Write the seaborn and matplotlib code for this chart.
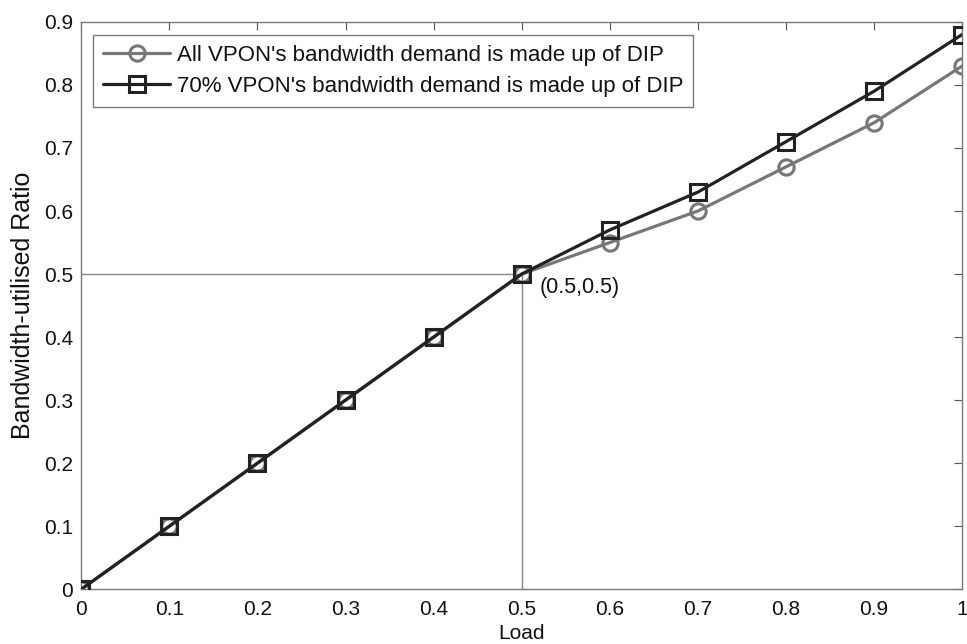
import matplotlib
matplotlib.use("Agg")
import matplotlib.pyplot as plt
import seaborn as sns
import pandas as pd

load = [0, 0.1, 0.2, 0.3, 0.4, 0.5, 0.6, 0.7, 0.8, 0.9, 1.0]
all_dip = [0, 0.1, 0.2, 0.3, 0.4, 0.5, 0.55, 0.60, 0.67, 0.74, 0.83]
dip70 = [0, 0.1, 0.2, 0.3, 0.4, 0.5, 0.57, 0.63, 0.71, 0.79, 0.88]
labels = ["All VPON's bandwidth demand is made up of DIP",
          "70% VPON's bandwidth demand is made up of DIP"]
xticks = [0, 0.1, 0.2, 0.3, 0.4, 0.5, 0.6, 0.7, 0.8, 0.9, 1]
yticks = [0, 0.1, 0.2, 0.3, 0.4, 0.5, 0.6, 0.7, 0.8, 0.9]

sns.set_style("white")
plt.rcParams['font.family'] = ['Liberation Sans', 'DejaVu Sans']
plt.rcParams['font.size'] = 15
plt.rcParams['text.color'] = '#111111'
plt.rcParams['axes.labelcolor'] = '#111111'
plt.rcParams['xtick.labelcolor'] = '#111111'
plt.rcParams['ytick.labelcolor'] = '#111111'

df = pd.DataFrame({"Load": load * 2,
                   "Ratio": all_dip + dip70,
                   "Series": [labels[0]] * len(load) + [labels[1]] * len(load)})

colors = ["#777777", "#222222"]
fig = plt.figure(figsize=(9.67, 6.44), dpi=100)
ax = fig.add_axes([0.084, 0.085, 0.911, 0.881])

ax.plot([0, 0.5], [0.5, 0.5], color="#888888", lw=1, zorder=1)
ax.plot([0.5, 0.5], [0, 0.5], color="#888888", lw=1, zorder=1)

sns.lineplot(data=df, x="Load", y="Ratio", hue="Series", style="Series",
             palette=colors, markers=["o", "s"], dashes=False,
             linewidth=2.3, markersize=11, markerfacecolor="none",
             markeredgewidth=2.2, ax=ax, zorder=3)
for ln, c in zip(ax.lines[2:], colors):
    ln.set_markeredgecolor(c)

ax.set_xlim(0, 1)
ax.set_ylim(0, 0.9)
ax.set_xticks(xticks)
ax.set_xticklabels([f"{t:g}" for t in xticks])
ax.set_yticks(yticks)
ax.set_yticklabels([f"{t:g}" for t in yticks])
ax.tick_params(direction="in", length=6, top=True, right=True, labelsize=15,
               color="#555555")
ax.tick_params(axis="x", pad=8)
ax.tick_params(axis="y", pad=6)
for s in ax.spines.values():
    s.set_color("#777777")
    s.set_linewidth(1)
ax.set_xlabel("Load", fontsize=15, labelpad=3)
ax.set_ylabel("Bandwidth-utilised Ratio", fontsize=18, labelpad=6)

ax.annotate("(0.5,0.5)", xy=(0.5, 0.5), xytext=(0.52, 0.479), fontsize=15.5,
            va="center", ha="left")

leg = ax.legend(loc="upper left", bbox_to_anchor=(0.0136, 0.977),
                borderaxespad=0, fontsize=16, frameon=True, fancybox=False,
                edgecolor="#555555", handlelength=3.0, handletextpad=0.3,
                labelspacing=0.45, borderpad=0.45)
leg.get_frame().set_linewidth(1)
for h, c in zip(leg.legend_handles, colors):
    h.set_color(c)
    h.set_markerfacecolor("none")
    h.set_markeredgecolor(c)
    h.set_markeredgewidth(2.2)
    h.set_linewidth(2.3)

fig.savefig("out.png", dpi=100)
